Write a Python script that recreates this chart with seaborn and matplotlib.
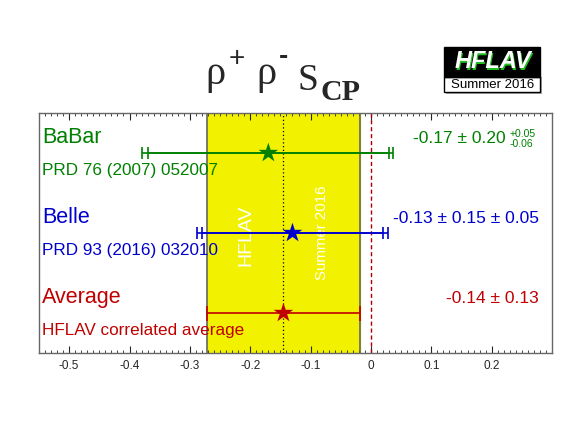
import numpy as np
import pandas as pd
import seaborn as sns
import matplotlib.pyplot as plt
from matplotlib.patches import Rectangle
from matplotlib.ticker import MultipleLocator

# measurements (top to bottom)
experiments = ["BaBar", "Belle", "Average"]
references = ["PRD 76 (2007) 052007", "PRD 93 (2016) 032010", "HFLAV correlated average"]
central = [-0.17, -0.13, -0.145]
stat_err = [0.20, 0.15, 0.127]
syst_lo = [0.06, 0.05, 0.0]
syst_hi = [0.05, 0.05, 0.0]
value_labels = ["-0.17 \u00b1 0.20", "-0.13 \u00b1 0.15 \u00b1 0.05", "-0.14 \u00b1 0.13"]
syst_labels = [("+0.05", "-0.06"), None, None]
colors = ["#008000", "#0000cc", "#c00000"]
ypos = [5, 3, 1]

avg_val = -0.145
avg_err = 0.127

df = pd.DataFrame({"exp": experiments, "x": central, "y": ypos})

sns.set_style("white")
plt.rcParams['font.family'] = ['Liberation Sans', 'DejaVu Sans']

W, H = 567, 425
fig = plt.figure(figsize=(W / 100, H / 100), dpi=100)
ax = fig.add_axes([39 / W, 1 - 353 / H, (552 - 39) / W, (353 - 113) / H])

# average band
ax.axvspan(avg_val - avg_err, avg_val + avg_err, color="#f2f200", zorder=0)
ax.axvline(avg_val - avg_err, color="#666666", lw=1.2, zorder=1)
ax.axvline(avg_val + avg_err, color="#666666", lw=1.2, zorder=1)
ax.axvline(avg_val, color="black", ls=(0, (1, 2)), lw=0.9, zorder=1)
ax.axvline(0, color="#aa0000", ls=(0, (3, 2)), lw=1.0, zorder=1)

ax.text(-0.207, 2.95, "HFLAV", rotation=90, color="white", fontsize=14,
        ha="center", va="center", zorder=2)
ax.text(-0.081, 3.0, "Summer 2016", rotation=90, color="white", fontsize=10.8,
        ha="center", va="center", zorder=2)

for i in range(len(experiments)):
    c = colors[i]
    lo_tot = np.hypot(stat_err[i], syst_lo[i])
    hi_tot = np.hypot(stat_err[i], syst_hi[i])
    ax.errorbar(central[i], ypos[i], xerr=[[lo_tot], [hi_tot]], fmt="none",
                ecolor=c, elinewidth=1.2, capsize=5.4 if i == 2 else 4.3,
                capthick=1.2, zorder=3)
    if syst_lo[i] > 0:
        ax.errorbar(central[i], ypos[i], xerr=[[stat_err[i]], [stat_err[i]]],
                    fmt="none", ecolor=c, elinewidth=1.2, capsize=4.3,
                    capthick=1.2, zorder=3)
    ax.text(-0.545, ypos[i] + 0.39, experiments[i], color=c, fontsize=15.5,
            ha="left", va="center")
    ax.text(-0.545, ypos[i] - 0.45, references[i], color=c, fontsize=12.3,
            ha="left", va="center")
    if syst_labels[i] is None:
        ax.text(0.278, ypos[i] + 0.37, value_labels[i], color=c, fontsize=12.5,
                ha="right", va="center")
    else:
        ax.text(0.2237, ypos[i] + 0.37, value_labels[i], color=c, fontsize=12.5,
                ha="right", va="center")
        ax.text(0.229, ypos[i] + 0.48, syst_labels[i][0], color=c, fontsize=7.5,
                ha="left", va="center")
        ax.text(0.229, ypos[i] + 0.23, syst_labels[i][1], color=c, fontsize=7.5,
                ha="left", va="center")

sns.scatterplot(data=df, x="x", y="y", hue="exp", palette=colors,
                marker="*", s=220, edgecolor="none", legend=False,
                ax=ax, zorder=4)

ax.set_xlim(-0.55, 0.3)
ax.set_ylim(0, 6)
ax.set_yticks([])
ax.set_xlabel("")
ax.set_ylabel("")
ax.xaxis.set_minor_locator(MultipleLocator(0.01))
ax.set_xticks(np.arange(-0.5, 0.25, 0.1))
ax.set_xticklabels(["-0.5", "-0.4", "-0.3", "-0.2", "-0.1", "0", "0.1", "0.2"])
ax.tick_params(axis="x", which="major", direction="in", length=5, width=0.8,
               top=True, bottom=True, labelsize=8.5, pad=5)
ax.tick_params(axis="x", which="minor", direction="in", length=2, width=0.6,
               top=True, bottom=True)
for s in ax.spines.values():
    s.set_color("#666666")
    s.set_linewidth(1.0)

# title, built piece by piece: rho+ rho- S_CP
def px(x, y):
    return x / W, 1 - y / H

serif = "Liberation Serif"
fig.text(*px(205, 84), "\u03c1", fontsize=29, family=serif, va="baseline")
fig.text(*px(236.5, 59), "+", fontsize=20, ha="center", va="center")
fig.text(*px(256, 84), "\u03c1", fontsize=29, family=serif, va="baseline")
fig.text(*px(284, 57), "-", fontsize=20, fontweight="bold", ha="center",
         va="center")
fig.text(*px(297, 90), "S", fontsize=27, family=serif, va="baseline")
fig.text(*px(321, 100), "CP", fontsize=21.5, family=serif, fontweight="bold",
         va="baseline")

# HFLAV logo
fig.patches.append(Rectangle(px(446, 94), 96 / W, 17 / H,
                             transform=fig.transFigure, facecolor="#aaaaaa",
                             edgecolor="none"))
fig.patches.append(Rectangle(px(444, 92), 96 / W, 15 / H,
                             transform=fig.transFigure, facecolor="white",
                             edgecolor="black", lw=1.0))
fig.patches.append(Rectangle(px(444, 77), 96 / W, 30 / H,
                             transform=fig.transFigure, facecolor="black",
                             edgecolor="black", lw=1.0))
x0, y0 = px(493, 62)
fig.text(x0 + 0.002, y0 - 0.003, "HFLAV", color="#22bb22",
         fontsize=17, fontweight="bold", fontstyle="italic",
         ha="center", va="center")
fig.text(x0, y0, "HFLAV", color="white", fontsize=17,
         fontweight="bold", fontstyle="italic", ha="center", va="center")
fig.text(*px(493, 85), "Summer 2016", color="black", fontsize=9.5,
         ha="center", va="center")

fig.savefig("out.png", dpi=100)
